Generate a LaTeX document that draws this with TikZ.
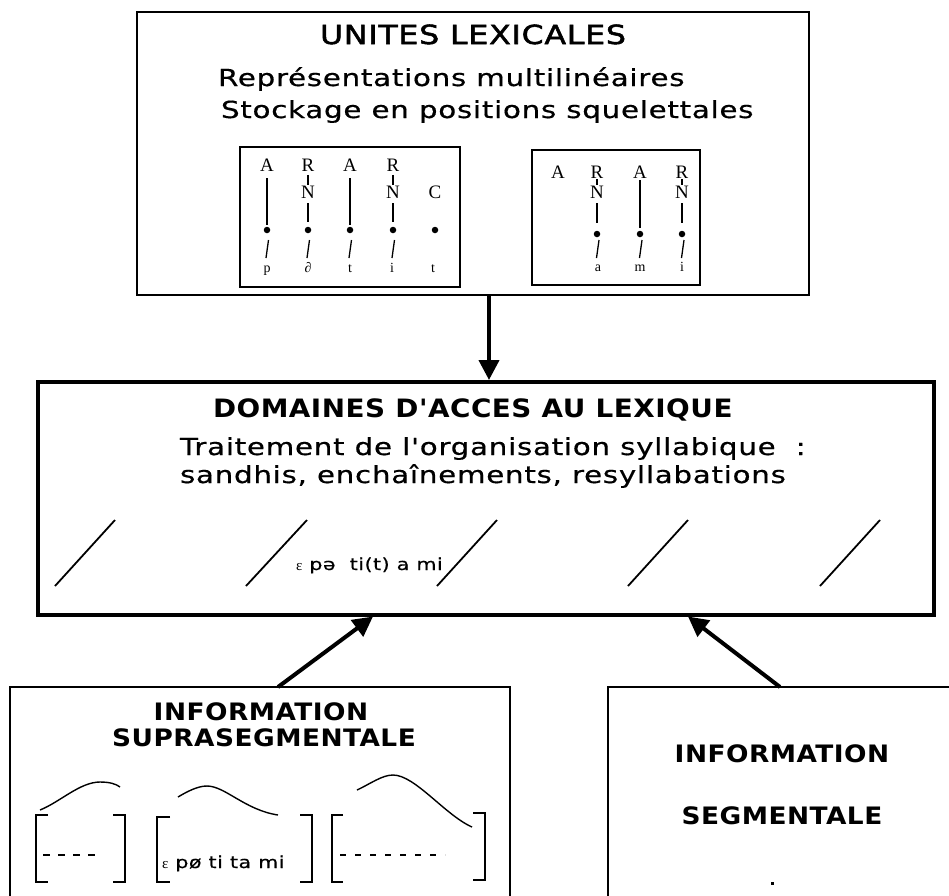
\documentclass[tikz,border=0pt]{standalone}
\usepackage{fontspec}
\setmainfont{DejaVu Sans}
\newfontfamily\regf{DejaVu Sans}[FakeBold=0.5,FakeStretch=1.25,LetterSpace=3]
\newfontfamily\boldf{DejaVu Sans}[FakeStretch=1.1,LetterSpace=2]
\newfontfamily\midf{DejaVu Sans}[FakeBold=2,FakeStretch=1.2,LetterSpace=3]
\newfontfamily\serf{Liberation Serif}
\usetikzlibrary{arrows.meta}
\newcommand\ftitle{\midf\fontsize{26.3}{30}\selectfont}
\newcommand\fbody{\regf\fontsize{23.5}{28}\selectfont}
\newcommand\fboldm{\boldf\bfseries\fontsize{25.3}{30}\selectfont}
\newcommand\fboldb{\boldf\bfseries\fontsize{24}{30}\selectfont}
\newcommand\fphon{\regf\fontsize{16.5}{20}\selectfont}
\newcommand\fser{\serf\fontsize{19}{21}\selectfont}
\newcommand\fsers{\serf\fontsize{14}{16}\selectfont}
\newcommand\feps{\serf\fontsize{15}{17}\selectfont}
\tikzset{
  thinbox/.style={draw, line width=1.6pt, inner sep=0pt, outer sep=0pt, anchor=north west},
  sbox/.style={draw, line width=1.8pt, inner sep=0pt, outer sep=0pt, anchor=north west},
  bigbox/.style={draw, line width=3.5pt, inner sep=0pt, outer sep=1.75pt, anchor=north west},
  arr/.style={line width=4pt, -{Triangle[length=20pt,width=20pt]}},
  let/.style={font=\fser, inner sep=0pt},
  lowl/.style={font=\fsers, inner sep=0pt, anchor=base},
  dotn/.style={circle, fill=black, inner sep=0pt, minimum size=6.5pt},
  vl/.style={line width=1.3pt},
  slashl/.style={line width=1.8pt},
  curvel/.style={line width=1.4pt},
  brk/.style={line width=1.6pt},
  dashl/.style={line width=1.4pt, dash pattern=on 7pt off 8pt},
  txt/.style={inner sep=0pt, outer sep=0pt}
}
\begin{document}
\begin{tikzpicture}[x=1pt,y=-1pt]
\useasboundingbox (0,0) rectangle (949,895);
\clip (0,0) rectangle (949,895);
\fill[white] (0,0) rectangle (949,895);

% ---------- top box ----------
\node[thinbox, minimum width=672pt, minimum height=283pt] (top) at (137,12) {};
\node[txt, anchor=base, font=\ftitle] (ttl) at (473,44) {UNITES LEXICALES};
\node[txt, anchor=base west, font=\fbody] (rep) at (218,86) {Représentations multilinéaires};
\node[txt, anchor=base west, font=\fbody] (sto) at (221,118) {Stockage en positions squelettales};

% small box 1
\node[sbox, minimum width=220pt, minimum height=140pt] (sb1) at (240,147) {};
\node[let] (a11) at (267,165) {A};
\node[let] (r12) at (308,165) {R};
\node[let] (n12) at (308,192) {N};
\node[let] (a13) at (350,165) {A};
\node[let] (r14) at (393,165) {R};
\node[let] (n14) at (393,192) {N};
\node[let] (c15) at (435,192) {C};
\node[dotn] (d11) at (267,230) {};
\node[dotn] (d12) at (308,230) {};
\node[dotn] (d13) at (350,230) {};
\node[dotn] (d14) at (393,230) {};
\node[dotn] (d15) at (435,230) {};
\node[lowl] (l11) at (267,272) {p};
\node[lowl] (l12) at (308,272) {∂};
\node[lowl] (l13) at (350,272) {t};
\node[lowl] (l14) at (392,272) {i};
\node[lowl] (l15) at (433,272) {t};
\draw[vl, shorten <=7pt, shorten >=1.5pt] (a11) -- (d11);
\draw[vl, shorten <=7pt, shorten >=1.5pt] (a13) -- (d13);
\draw[vl, shorten <=3.5pt, shorten >=0.8pt] (r12) -- (n12);
\draw[vl, shorten <=3.5pt, shorten >=0.8pt] (r14) -- (n14);
\draw[vl, shorten <=4.7pt, shorten >=4.7pt] (n12) -- (d12);
\draw[vl, shorten <=4.7pt, shorten >=4.7pt] (n14) -- (d14);
\foreach \d in {d11,d12,d13,d14}{
  \draw[vl] ([shift={(1.5pt,-10pt)}]\d.center) -- ([shift={(-1pt,-28pt)}]\d.center);
}

% small box 2
\node[sbox, minimum width=168pt, minimum height=135pt] (sb2) at (532,150) {};
\node[let] (a21) at (558,172) {A};
\node[let] (r22) at (597,172) {R};
\node[let] (n22) at (597,192) {N};
\node[let] (a23) at (640,172) {A};
\node[let] (r24) at (682,172) {R};
\node[let] (n24) at (682,192) {N};
\node[dotn] (d22) at (597,234) {};
\node[dotn] (d23) at (640,234) {};
\node[dotn] (d24) at (682,234) {};
\node[lowl] (l22) at (598,271) {a};
\node[lowl] (l23) at (640,271) {m};
\node[lowl] (l24) at (682,271) {i};
\draw[vl, shorten <=1.7pt, shorten >=2.7pt] (a23) -- (d23);
\draw[vl, shorten <=0.7pt, shorten >=0.7pt] (r22) -- (n22);
\draw[vl, shorten <=0.7pt, shorten >=0.7pt] (r24) -- (n24);
\draw[vl, shorten <=4.7pt, shorten >=7.7pt] (n22) -- (d22);
\draw[vl, shorten <=4.7pt, shorten >=7.7pt] (n24) -- (d24);
\foreach \d in {d22,d23,d24}{
  \draw[vl] ([shift={(2pt,-6pt)}]\d.center) -- ([shift={(-0.5pt,-24pt)}]\d.center);
}

% ---------- middle box ----------
\node[bigbox, minimum width=896pt, minimum height=233pt] (mid) at (36,380) {};
\node[txt, anchor=base west, font=\fboldm] (dom) at (213,417) {DOMAINES D'ACCES AU LEXIQUE};
\node[txt, anchor=base west, font=\fbody] (tra) at (180,455) {Traitement de l'organisation syllabique~~:};
\node[txt, anchor=base west, font=\fbody] (san) at (180,483) {sandhis, enchaînements, resyllabations};
\draw[slashl] (55,586) -- (115,520);
\draw[slashl] (246,586) -- (307,520);
\draw[slashl] (437,586) -- (497,520);
\draw[slashl] (628,586) -- (688,520);
\draw[slashl] (820,586) -- (880,520);
\node[txt, anchor=base west, font=\fphon] (ph1) at (296,570) {{\feps ε} pə~ ti(t) a mi};

% ---------- bottom boxes ----------
\node[thinbox, minimum width=500pt, minimum height=260pt] (bl) at (10,687) {};
\node[thinbox, minimum width=400pt, minimum height=260pt] (br) at (608,687) {};

\node[txt, anchor=base, font=\fboldb] (inf1) at (261,720) {INFORMATION};
\node[txt, anchor=base, font=\fboldb] (sup) at (264,746) {SUPRASEGMENTALE};
\node[txt, anchor=base, font=\fboldb] (inf2) at (782,762) {INFORMATION};
\node[txt, anchor=base, font=\fboldb] (seg) at (782,824) {SEGMENTALE};
\fill (770.5,881.5) rectangle (773.5,884.5);

% intonation curves
\draw[curvel] (40,810) .. controls (60,802) and (80,782) .. (100,782) .. controls (110,782) and (116,784) .. (120,787);
\draw[curvel] (178,797) .. controls (188,791) and (198,786) .. (207,786) .. controls (225,786) and (245,810) .. (278,815);
\draw[curvel] (357,790) .. controls (370,784) and (382,775) .. (393,775) .. controls (415,775) and (445,815) .. (472,827);

% brackets
\draw[brk] (48,815) -- (36,815) -- (36,882) -- (48,882);
\draw[brk] (113,815) -- (125,815) -- (125,882) -- (113,882);
\draw[dashl] (43,855) -- (100,855);
\draw[brk] (170,817) -- (157,817) -- (157,882) -- (170,882);
\draw[brk] (300,815) -- (312,815) -- (312,882) -- (300,882);
\node[txt, anchor=base west, font=\fphon] (ph2) at (162,868) {{\feps ε} pø ti ta mi};
\draw[brk] (343,815) -- (332,815) -- (332,882) -- (343,882);
\draw[brk] (473,813) -- (485,813) -- (485,880) -- (473,880);
\draw[dashl, dash pattern=on 6pt off 9pt] (340,855) -- (445,855);

% ---------- arrows ----------
\coordinate (xa) at (489,0);
\coordinate (xl1) at (278,0);
\coordinate (xl2) at (373,0);
\coordinate (xr1) at (780,0);
\coordinate (xr2) at (688,0);
\draw[arr] (top.south -| xa) -- (mid.north -| xa);
\draw[arr] (bl.north -| xl1) -- (mid.south -| xl2);
\draw[arr] (br.north -| xr1) -- (mid.south -| xr2);
\end{tikzpicture}
\end{document}
